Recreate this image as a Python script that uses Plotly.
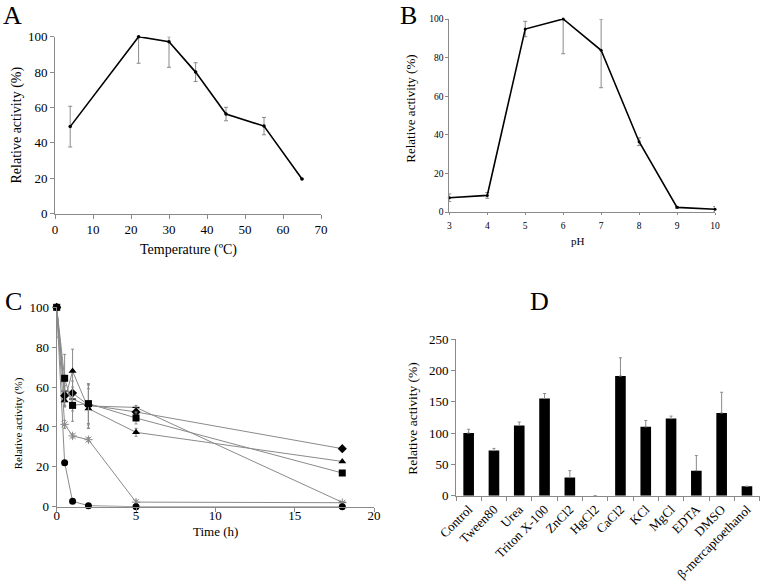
import plotly.graph_objects as go

# ---------- Data ----------
# Panel A: temperature
temp_c = [4, 22, 30, 37, 45, 55, 65]
temp_act = [49.2, 100, 97.2, 80, 56.3, 49.5, 19.6]
temp_err_plus = [11.5, 0, 2.8, 5.3, 3.8, 4.9, 0]
temp_err_minus = [11.5, 15, 14.5, 5.3, 3.8, 4.9, 0]

# Panel B: pH
ph = [3, 4, 5, 6, 7, 8, 9, 10]
ph_act = [7.4, 8.6, 94.8, 100, 83.8, 36.4, 2.4, 1.4]
ph_err_plus = [2, 1.5, 4, 0, 16.2, 2, 0.5, 1.4]
ph_err_minus = [2, 1.5, 4, 18, 19.4, 2, 0.5, 1.4]

# Panel C: stability over time
time_h = [0, 0.5, 1, 2, 5, 18]
c_diamond = [100, 55.7, 57, 51, 47.5, 29.1]
c_diamond_err = [0, 5, 6, 10, 2, 0]
c_triangle = [100, 53.2, 68, 49.2, 37.3, 22.7]
c_triangle_err = [0, 3, 11, 10, 2, 0]
c_square = [100, 64.4, 50.8, 51.7, 44.5, 16.9]
c_square_err = [15, 12, 8, 10, 3, 0]
c_dash = [100, 58, 54, 50.5, 49.8, 2.2]
c_dash_err = [0, 8, 6, 11, 1, 0]
c_star = [100, 41.3, 35.5, 33.6, 2.3, 2.0]
c_star_err = [0, 2, 1, 1, 1, 0]
c_circle = [100, 22.1, 2.7, 0.5, 0, 0]

# Panel D: effect of additives
additives = ["Control", "Tween80", "Urea", "Triton X-100", "ZnCl2", "HgCl2",
             "CaCl2", "KCl", "MgCl", "EDTA", "DMSO", "β-mercaptoethanol"]
add_act = [100, 72, 112, 155, 29, 0, 191, 110, 123, 40, 132, 15]
add_err = [6, 3.5, 5.5, 8, 11, 0, 29, 10, 4, 24, 33, 0]

W, H = 760, 588
SERIF = "Liberation Serif, Times New Roman, serif"
AX = "#8a8a8a"
ERR = "#8a8a8a"


def dx(a, b):
    return [a / W, b / W]


def dy(top, bottom):
    return [1 - bottom / H, 1 - top / H]


def clipped_plus(vals, errs, cap=100):
    return [min(e, cap - v) for v, e in zip(vals, errs)]


fig = go.Figure()

# ---- A ----
fig.add_trace(go.Scatter(
    x=temp_c, y=temp_act, mode="lines+markers", xaxis="x", yaxis="y",
    line=dict(color="black", width=1.6), marker=dict(color="black", size=3.5),
    error_y=dict(type="data", symmetric=False, array=temp_err_plus,
                 arrayminus=temp_err_minus, color=ERR, thickness=1, width=2),
    showlegend=False, cliponaxis=False))

# ---- B ----
fig.add_trace(go.Scatter(
    x=ph, y=ph_act, mode="lines+markers", xaxis="x2", yaxis="y2",
    line=dict(color="black", width=1.6), marker=dict(color="black", size=3),
    error_y=dict(type="data", symmetric=False, array=ph_err_plus,
                 arrayminus=ph_err_minus, color=ERR, thickness=1, width=2),
    showlegend=False, cliponaxis=False))

# ---- C ----
c_series = [
    ("dash", c_dash, c_dash_err, dict(symbol="line-ew-open", size=5, color="black",
                                       line=dict(color="black", width=1.2))),
    ("star", c_star, c_star_err, dict(symbol="asterisk-open", size=7, color="#8a8a8a",
                                       line=dict(color="#8a8a8a", width=1))),
    ("circle", c_circle, [0] * 6, dict(symbol="circle", size=7, color="black")),
    ("triangle", c_triangle, c_triangle_err, dict(symbol="triangle-up", size=7, color="black")),
    ("diamond", c_diamond, c_diamond_err, dict(symbol="diamond", size=7, color="black")),
    ("square", c_square, c_square_err, dict(symbol="square", size=7, color="black")),
]
for name, vals, errs, mk in c_series:
    fig.add_trace(go.Scatter(
        x=time_h, y=vals, mode="lines+markers", name=name, xaxis="x3", yaxis="y3",
        line=dict(color="#8a8a8a", width=1), marker=mk,
        error_y=dict(type="data", symmetric=False, array=clipped_plus(vals, errs),
                     arrayminus=errs, color=ERR, thickness=1, width=1.5,
                     visible=any(e > 0 for e in errs)),
        showlegend=False, cliponaxis=False))

# ---- D ----
fig.add_trace(go.Bar(
    x=additives, y=add_act, xaxis="x4", yaxis="y4", width=0.42,
    marker=dict(color="black", line=dict(width=0)),
    error_y=dict(type="data", symmetric=False, array=add_err,
                 arrayminus=[0] * len(add_err), color=ERR, thickness=1, width=1.5),
    showlegend=False))

tickA = dict(family=SERIF, size=13, color="black")
tickB = dict(family=SERIF, size=9.5, color="black")
tickD = dict(family=SERIF, size=13, color="black")

common = dict(showgrid=False, zeroline=False, showline=True, linecolor=AX, linewidth=1,
              ticks="outside", tickcolor=AX, ticklen=4, tickwidth=1, automargin=False)

fig.update_layout(
    template="none",
    width=W, height=H, margin=dict(l=0, r=0, t=0, b=0, autoexpand=False),
    plot_bgcolor="white", paper_bgcolor="white",
    font=dict(family=SERIF, color="black"),
    xaxis=dict(domain=dx(55, 321), range=[0, 70], dtick=10, anchor="y",
               tickfont=tickA, **common),
    yaxis=dict(domain=dy(36.7, 213.7), range=[0, 100], dtick=20, anchor="x",
               tickfont=tickA, **common),
    xaxis2=dict(domain=dx(449.3, 715), range=[3, 10], dtick=1, anchor="y2",
                tickfont=tickB, ticklabelstandoff=3, **{**common, "ticklen": 2}),
    yaxis2=dict(domain=dy(19, 212), range=[0, 100], dtick=20, anchor="x2",
                tickfont=tickB, **{**common, "ticklen": 3}),
    xaxis3=dict(domain=dx(56.7, 374), range=[0, 20], dtick=5, anchor="y3",
                tickfont=tickA, ticklabelstandoff=-7, **common),
    yaxis3=dict(domain=dy(307.3, 506.7), range=[0, 100], dtick=20, anchor="x3",
                tickfont=tickA, **common),
    xaxis4=dict(domain=dx(456, 759.6), anchor="y4", tickangle=-45, tickson="boundaries",
                tickfont=tickD, **common),
    yaxis4=dict(domain=dy(339, 495.7), range=[0, 250], dtick=50, anchor="x4",
                tickfont=tickD, **common),
)

ann = []


def label(text, x, y, size, angle=0, yanchor="middle"):
    ann.append(dict(text=text, x=x / W, y=1 - y / H, xref="paper", yref="paper",
                    showarrow=False, xanchor="center", yanchor=yanchor, borderpad=0,
                    textangle=angle, font=dict(family=SERIF, size=size, color="black")))


label("A", 12.5, 0, 26, yanchor="top")
label("B", 409, 0, 26, yanchor="top")
label("C", 13, 301, 26)
label("D", 539, 301, 26)
label("Relative activity (%)", 17, 125.5, 14, -90)
label("Temperature (ºC)", 188, 250, 14)
label("Relative activity (%)", 411, 108.7, 13, -90)
label("pH", 578, 241, 11)
label("Relative activity (%)", 18.3, 423, 11, -90)
label("Time (h)", 215, 531, 13)
label("Relative activity (%)", 411.7, 419, 13.5, -90)
fig.update_layout(annotations=ann)

fig.write_html(
    "out.html",
    config={"displayModeBar": False},
    post_script="document.body.style.margin='0';document.body.style.overflow='hidden';",
)
